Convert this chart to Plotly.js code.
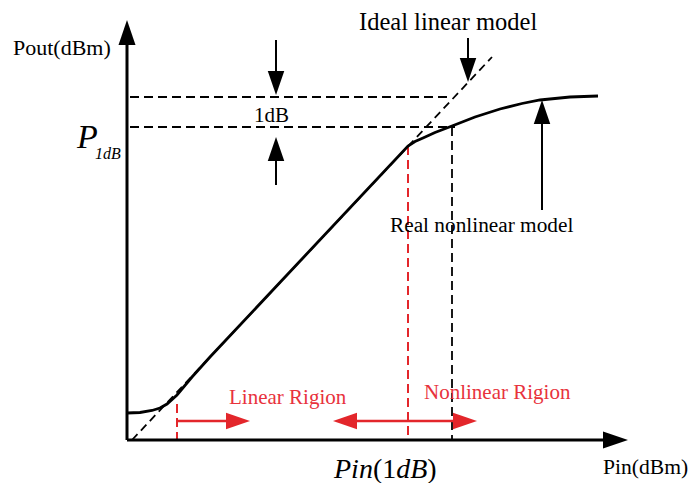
<!DOCTYPE html>
<html><head><meta charset="utf-8">
<script src="https://cdn.plot.ly/plotly-3.0.1.min.js"></script>
<style>html,body{margin:0;padding:0;background:#fff;}#chart{width:691px;height:483px;}</style>
</head><body><div id="chart"></div>
<script>
// ---- data (arbitrary dB units) ----
const curvePin  = [0, 1.3, 2.5, 3.3, 4.0, 5.0, 6.5, 8.3, 28.1, 28.8, 29.6, 30.8, 32.5, 34.8, 37.3, 39.5, 41.3, 44.3, 47.1];
const curvePout = [2.7, 2.75, 2.95, 3.2, 3.6, 4.5, 6.3, 8.3, 29.4, 29.85, 30.2, 30.75, 31.4, 32.3, 33.1, 33.65, 34.0, 34.3, 34.4];
const idealPin  = [0.5, 36.5];
const idealPout = [0, 38.3];
const levelP1dB = 31.3;      // compressed output (P1dB)
const levelIdeal = 34.3;     // ideal output, 1 dB above
const levelStartPin = 0.3;
const levelEndPin = [32.5, 32.8];
const pinRedLines = [5.0, 28.1];
const pinRedTop   = [3.6, 29.4];
const pinComp = 32.5;
const arrowTail = [[14.9, 40.0], [14.9, 25.5], [34.1, 40.2], [41.5, 23.0], [5.0, 1.9], [28.1, 1.9], [28.1, 1.9], [0, 0], [0, 0]];
const arrowTip  = [[14.9, 34.5], [14.9, 30.3], [34.1, 35.8], [41.5, 34.0], [12.3, 1.9], [20.6, 1.9], [35.0, 1.9], [0, 42.0], [50.1, 0]];
const arrowColor = ['#000', '#000', '#000', '#000', '#e3262b', '#e3262b', '#e3262b', '#000', '#000'];
const arrowWidth = [2, 2, 2, 2, 2.5, 2.5, 2.5, 3, 3];
const labels = ['Pout(dBm)', 'Ideal linear model', 'Real nonlinear model', '1dB', '<i>P</i>', '<i>1dB</i>', '<i>Pin</i>(1<i>dB</i>)', 'Pin(dBm)', 'Linear Rigion', 'Nonlinear Rigion'];
const labelX = [-6.5, 32.1, 35.4, 14.4, -4.0, -1.9, 25.8, 51.8, 16.1, 37.0];
const labelY = [39.3, 41.9, 21.5, 32.5, 30.4, 28.7, -2.8, -2.7, 4.3, 4.8];
const labelSize = [22, 24.5, 21.3, 21, 34, 16, 28, 21.6, 21, 21];
const labelColor = ['#000', '#000', '#000', '#000', '#000', '#000', '#000', '#000', '#e8323c', '#e8323c'];

const FONT = 'Liberation Serif, Times New Roman, serif';
const traces = [];
const shapes = [];
// ideal linear dashed
traces.push({x: idealPin, y: idealPout, mode: 'lines', line: {color: '#000', width: 1.8, dash: '8px,5px'}});
// horizontal dashed levels
[levelIdeal, levelP1dB].forEach((lv, i) => {
  traces.push({x: [levelStartPin, levelEndPin[i]], y: [lv, lv], mode: 'lines', line: {color: '#000', width: 1.8, dash: '9px,5px'}});
});
// vertical dashed
traces.push({x: [pinComp, pinComp], y: [levelP1dB, 0], mode: 'lines', line: {color: '#000', width: 1.8, dash: '9px,5px'}});
pinRedLines.forEach((p, i) => {
  traces.push({x: [p, p], y: [pinRedTop[i], 0], mode: 'lines', line: {color: '#e3262b', width: 2, dash: '9px,5px'}});
});
// real curve
traces.push({x: curvePin, y: curvePout, mode: 'lines', line: {color: '#000', width: 2.8}});
// arrows
const HL = 2.4, HW = 1.65; // head length/width in data units (10 px per unit)
arrowTail.forEach((t, i) => {
  const p = arrowTip[i];
  const dx = p[0] - t[0], dy = p[1] - t[1];
  const L = Math.hypot(dx, dy);
  const ux = dx / L, uy = dy / L;
  const isAxis = i >= 7;
  const hl = isAxis ? 2.5 : HL, hw = isAxis ? 1.7 : HW;
  const bx = p[0] - ux * hl, by = p[1] - uy * hl;
  traces.push({x: [t[0], bx + ux * 0.3], y: [t[1], by + uy * 0.3], mode: 'lines', line: {color: arrowColor[i], width: arrowWidth[i]}});
  const px = -uy, py = ux;
  const path = `M${p[0]},${p[1]} L${bx + px * hw / 2},${by + py * hw / 2} L${bx - px * hw / 2},${by - py * hw / 2} Z`;
  shapes.push({type: 'path', path: path, xref: 'x', yref: 'y', fillcolor: arrowColor[i], line: {width: 0}});
});
const annotations = labels.map((t, i) => ({
  x: labelX[i], y: labelY[i], xref: 'x', yref: 'y', text: t, showarrow: false,
  xanchor: 'center', yanchor: 'middle', font: {family: FONT, size: labelSize[i], color: labelColor[i]}
}));
const layout = {
  width: 691, height: 483, autosize: false,
  margin: {l: 0, r: 0, t: 0, b: 0, pad: 0},
  paper_bgcolor: '#fff', plot_bgcolor: '#fff', showlegend: false,
  xaxis: {range: [-12.7, 56.4], visible: false, fixedrange: true},
  yaxis: {range: [-4.3, 44.0], visible: false, fixedrange: true},
  shapes: shapes, annotations: annotations
};
Plotly.newPlot('chart', traces.map(t => Object.assign({hoverinfo: 'skip'}, t)), layout, {staticPlot: true, displayModeBar: false});
</script></body></html>
